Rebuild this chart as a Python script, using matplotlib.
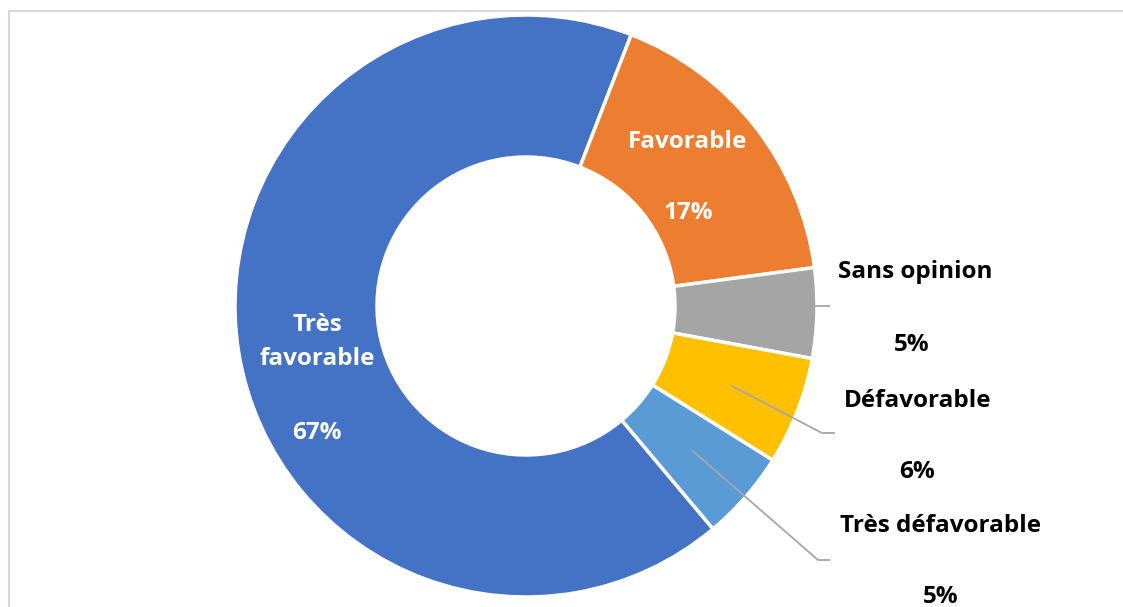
import matplotlib
matplotlib.use('Agg')
import matplotlib.pyplot as plt
import numpy as np

plt.rcParams['font.family'] = ['Open Sans', 'DejaVu Sans']

# data
categories = ['Très favorable', 'Favorable', 'Sans opinion', 'Défavorable', 'Très défavorable']
values = [67, 17, 5, 6, 5]
colors = ['#4472C4', '#ED7D31', '#A5A5A5', '#FFC000', '#5B9BD5']

W, H = 1123, 607
def py(y):
    # pixel row (from top) -> data y
    return H - y

fig = plt.figure(figsize=(W / 100, H / 100), dpi=100)
ax = fig.add_axes([0, 0, 1, 1])

cx, cy = 526, py(306)
R = 291
ring = 142

wedges, _ = ax.pie(values, colors=colors, startangle=-50, counterclock=False,
                   radius=R, center=(cx, cy),
                   wedgeprops=dict(width=ring, edgecolor='white', linewidth=2.5))

ax.set_xlim(0, W)
ax.set_ylim(0, H)
ax.set_aspect('equal')
ax.axis('off')

fs = 17.5
# labels inside the ring (white)
ax.text(317, py(342), 'Très\nfavorable', color='white', fontsize=fs, fontweight='bold',
        ha='center', va='center', linespacing=1.55)
ax.text(317, py(433), f'{values[0]}%', color='white', fontsize=fs, fontweight='bold',
        ha='center', va='center')
ax.text(688, py(142), categories[1], color='white', fontsize=fs, fontweight='bold',
        ha='center', va='center')
ax.text(688, py(213), f'{values[1]}%', color='white', fontsize=fs, fontweight='bold',
        ha='center', va='center')

# outside labels with leader lines
outside = [
    # idx, name pos, pct pos, elbow, line end
    (2, (915, 272), (912, 345), (816, 306), (830, 306)),
    (3, (918, 401), (917, 472), (822, 433), (835, 433)),
    (4, (940, 526), (941, 597), (818, 560), (830, 560)),
]
r_mid = R - ring / 2
for idx, npos, ppos, elbow, lend in outside:
    w = wedges[idx]
    a = np.deg2rad((w.theta1 + w.theta2) / 2)
    sx, sy = cx + r_mid * np.cos(a), cy + r_mid * np.sin(a)
    ax.plot([sx, elbow[0], lend[0]], [sy, py(elbow[1]), py(lend[1])],
            color='#A6A6A6', lw=1.3, solid_capstyle='butt')
    ax.text(npos[0], py(npos[1]), categories[idx], color='black', fontsize=fs,
            fontweight='bold', ha='center', va='center')
    ax.text(ppos[0], py(ppos[1]), f'{values[idx]}%', color='black', fontsize=fs,
            fontweight='bold', ha='center', va='center')

# chart frame
ax.plot([8.5, 8.5, W], [-5, py(10.5), py(10.5)], color='#D9D9D9', lw=1.5, clip_on=False)

fig.savefig('out.png', dpi=100, facecolor='white')
